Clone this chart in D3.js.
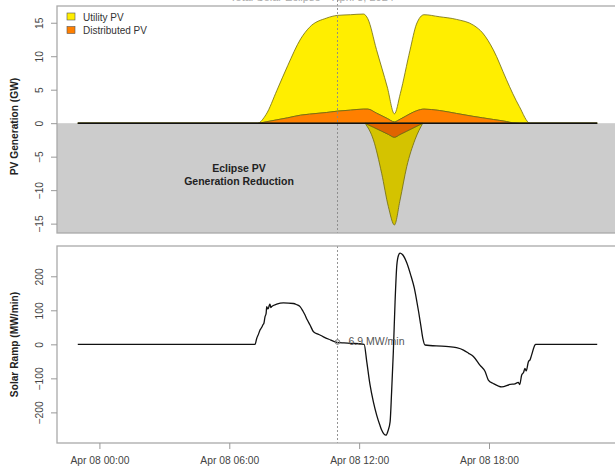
<!DOCTYPE html>
<html>
<head>
<meta charset="utf-8">
<script src="https://cdn.jsdelivr.net/npm/d3@7"></script>
<style>
  body { margin: 0; background: #fff; }
  svg { display: block; font-family: "Liberation Sans", Arial, sans-serif; }
</style>
</head>
<body>
<svg id="chart" width="615" height="467"></svg>
<script>
// PV generation (GW), hours relative to Apr 08 00:00
const pvHours = [-1, 7.3, 7.7, 8.2, 8.7, 9.3, 9.7, 10.5, 11.0, 11.6, 12.2, 12.4, 12.8, 13.3, 13.63, 13.9, 14.35, 14.65, 15.0, 15.7, 16.5, 17.3, 17.7, 18.2, 18.8, 19.1, 19.4, 19.9, 23];
const utilityPV = [0, 0, 1.1, 4.4, 7.8, 11.4, 12.95, 14.1, 14.3, 14.25, 14.2, 13.5, 9.5, 4.7, 1.2, 3.8, 9.5, 12.95, 14.1, 14.0, 14.05, 13.6, 12.7, 10.4, 6.3, 4.35, 2.5, 0, 0];
const distributedPV = [0, 0, 0.2, 0.5, 0.8, 1.2, 1.35, 1.6, 1.8, 1.95, 2.1, 2.1, 1.5, 0.7, 0.2, 0.6, 1.4, 1.85, 2.1, 1.9, 1.45, 1.0, 0.8, 0.55, 0.25, 0.05, 0, 0, 0];

// eclipse reduction (GW)
const reductionHours = [12.27, 12.66, 13.04, 13.35, 13.63, 13.89, 14.2, 14.58, 14.94];
const utilityReduction = [0, -1.9, -6.3, -10.8, -13.1, -9.8, -5.3, -1.9, 0];
const distributedReduction = [0, -0.6, -1.19, -1.67, -2.1, -1.68, -1.19, -0.58, 0];

// solar ramp (MW/min)
const rampHours = [-1, 7.19, 7.27, 7.35, 7.42, 7.5, 7.55, 7.6, 7.65, 7.7, 7.73, 7.78, 7.81, 7.85, 7.88, 7.92, 7.96, 8.19, 8.5, 8.96, 9.1, 9.27, 9.4, 9.5, 9.6, 9.73, 9.89, 10.1, 10.35, 10.6, 10.97, 11.3, 11.58, 12.23,
  12.35, 12.5, 12.66, 12.81, 12.96, 13.04, 13.15, 13.24, 13.33, 13.43, 13.5, 13.58, 13.66, 13.74, 13.82, 13.89, 14.0, 14.2, 14.4, 14.55, 14.66, 14.75, 14.85, 14.95, 15.04,
  16.0, 16.5, 16.82, 17.05, 17.28, 17.58, 17.82, 17.97, 18.2, 18.59, 18.97, 19.2, 19.35, 19.42, 19.51, 19.6, 19.66, 19.72, 19.82, 19.9, 19.97, 20.12, 20.15, 23];
const rampValues = [0, 0, 18, 30, 42, 50, 57, 62, 81, 90, 111, 104, 106, 115, 118, 108, 111, 118, 122, 120, 117, 111, 98, 86, 72, 57, 37, 30, 22, 15, 6, 4, 3, 0,
  -50, -118, -170, -208, -238, -252, -264, -267, -255, -228, -140, -22, 125, 232, 262, 268, 264, 240, 200, 165, 128, 95, 55, 15, -2,
  -6, -10, -17, -26, -36, -61, -80, -105, -115, -125, -118, -116, -112, -118, -90, -82, -71, -78, -51, -45, -31, -2, 0, 0];

const tickHours = [0, 6, 12, 18];
const tickLabels = ["Apr 08 00:00", "Apr 08 06:00", "Apr 08 12:00", "Apr 08 18:00"];
const pvTicks = [-15, -10, -5, 0, 5, 10, 15];
const rampTicks = [-200, -100, 0, 100, 200];
const eclipseHour = 11.0;
const eclipseRamp = 6.9;

const svg = d3.select("#chart");
const left = 57, right = 618;
const top1 = 6, bot1 = 233, top2 = 246, bot2 = 443;

const x = d3.scaleLinear().domain([-1.96, 23.96]).range([left, right]);
const y1 = d3.scaleLinear().domain([-16.4, 17.5]).range([bot1, top1]);
const y2 = d3.scaleLinear().domain([-290, 289]).range([bot2, top2]);

// title, mostly above the top edge as in the original
svg.append("text")
  .attr("x", 312).attr("y", 1)
  .attr("text-anchor", "middle")
  .attr("font-size", 11).attr("fill", "#aaa")
  .text("Total Solar Eclipse \u2013 April 8, 2024");

// ---- top panel ----
svg.append("rect")
  .attr("x", left).attr("y", y1(0))
  .attr("width", right - left).attr("height", bot1 - y1(0))
  .attr("fill", "#cccccc");

const pvRows = pvHours.map((h, i) => ({ hour: h, distributed: distributedPV[i], utility: utilityPV[i] }));
const redRows = reductionHours.map((h, i) => ({ hour: h, distributed: distributedReduction[i], utility: utilityReduction[i] }));
const keys = ["distributed", "utility"];
const stack = d3.stack().keys(keys).offset(d3.stackOffsetDiverging);

const area = d3.area()
  .curve(d3.curveMonotoneX)
  .x(d => x(d.data.hour))
  .y0(d => y1(d[0]))
  .y1(d => y1(d[1]));

const posColor = { distributed: "#ff7f00", utility: "#ffee00" };
const negColor = { distributed: "#e06400", utility: "#d4c300" };

svg.append("g").selectAll("path")
  .data(stack(pvRows).reverse())
  .join("path")
  .attr("d", area)
  .attr("fill", d => posColor[d.key])
  .attr("stroke", "#6e6a10").attr("stroke-width", 0.8);

svg.append("g").selectAll("path")
  .data(stack(redRows).reverse())
  .join("path")
  .attr("d", area)
  .attr("fill", d => negColor[d.key])
  .attr("stroke", "#6e6a10").attr("stroke-width", 0.8);

svg.append("line")
  .attr("x1", x(pvHours[0])).attr("x2", x(pvHours[pvHours.length - 1]))
  .attr("y1", y1(0)).attr("y2", y1(0))
  .attr("stroke", "#111").attr("stroke-width", 1.4);

svg.append("text")
  .attr("x", 239).attr("y", 172)
  .attr("text-anchor", "middle").attr("font-size", 10.5).attr("font-weight", "bold").attr("fill", "#222")
  .text("Eclipse PV");
svg.append("text")
  .attr("x", 239).attr("y", 185)
  .attr("text-anchor", "middle").attr("font-size", 10.5).attr("font-weight", "bold").attr("fill", "#222")
  .text("Generation Reduction");

// legend
const legendItems = [["Utility PV", "utility"], ["Distributed PV", "distributed"]];
const lg = svg.append("g").selectAll("g")
  .data(legendItems)
  .join("g")
  .attr("transform", (d, i) => `translate(67,${13 + i * 13.5})`);
lg.append("rect")
  .attr("width", 8).attr("height", 7)
  .attr("fill", d => posColor[d[1]])
  .attr("stroke", "#555").attr("stroke-width", 0.6);
lg.append("text")
  .attr("x", 16).attr("y", 7.5)
  .attr("font-size", 10).attr("fill", "#333")
  .text(d => d[0]);

// ---- bottom panel ----
const line = d3.line()
  .curve(d3.curveMonotoneX)
  .x((d, i) => x(rampHours[i]))
  .y(d => y2(d));

svg.append("path")
  .datum(rampValues)
  .attr("d", line)
  .attr("fill", "none")
  .attr("stroke", "#111").attr("stroke-width", 1.3);

svg.append("circle")
  .attr("cx", x(eclipseHour)).attr("cy", y2(eclipseRamp)).attr("r", 2.3)
  .attr("fill", "none").attr("stroke", "#777").attr("stroke-width", 1);
svg.append("text")
  .attr("x", x(eclipseHour) + 11).attr("y", y2(eclipseRamp) + 3.5)
  .attr("font-size", 10.5).attr("fill", "#555")
  .text(`${eclipseRamp} MW/min`);

// dotted eclipse marker
[[0, bot1], [top2, bot2]].forEach(([a, b]) => {
  svg.append("line")
    .attr("x1", x(eclipseHour)).attr("x2", x(eclipseHour))
    .attr("y1", a).attr("y2", b)
    .attr("stroke", "#888").attr("stroke-width", 0.9).attr("stroke-dasharray", "2,2");
});

// boxes
[[top1, bot1], [top2, bot2]].forEach(([a, b]) => {
  svg.append("rect")
    .attr("x", left).attr("y", a).attr("width", right - left).attr("height", b - a)
    .attr("fill", "none").attr("stroke", "#aaa").attr("stroke-width", 1.3);
});

// axes
function yAxis(scale, ticks) {
  const g = svg.append("g")
    .attr("transform", `translate(${left},0)`)
    .call(d3.axisLeft(scale).tickValues(ticks).tickSize(6).tickFormat(d3.format("d")));
  g.select(".domain").remove();
  g.selectAll(".tick line").attr("stroke", "#999");
  g.selectAll(".tick text")
    .attr("transform", "rotate(-90)")
    .attr("x", 0).attr("y", -18).attr("dy", "0.35em")
    .attr("text-anchor", "middle")
    .attr("font-size", 10.3).attr("fill", "#444")
    .attr("font-family", null);
  return g;
}
yAxis(y1, pvTicks);
yAxis(y2, rampTicks);

const xa = svg.append("g")
  .attr("transform", `translate(0,${bot2})`)
  .call(d3.axisBottom(x).tickValues(tickHours).tickSize(6).tickFormat((d, i) => tickLabels[i]));
xa.select(".domain").remove();
xa.selectAll(".tick line").attr("stroke", "#999");
xa.selectAll(".tick text")
  .attr("y", 14).attr("dy", "0.71em")
  .attr("font-size", 10.3).attr("fill", "#444")
  .attr("font-family", null);

// axis titles
svg.append("text")
  .attr("transform", `translate(18,${(top1 + bot1) / 2 + 7}) rotate(-90)`)
  .attr("text-anchor", "middle").attr("font-size", 10.2).attr("font-weight", "bold").attr("fill", "#222")
  .text("PV Generation (GW)");
svg.append("text")
  .attr("transform", `translate(18,${(top2 + bot2) / 2}) rotate(-90)`)
  .attr("text-anchor", "middle").attr("font-size", 10.2).attr("font-weight", "bold").attr("fill", "#222")
  .text("Solar Ramp (MW/min)");
</script>
</body>
</html>
